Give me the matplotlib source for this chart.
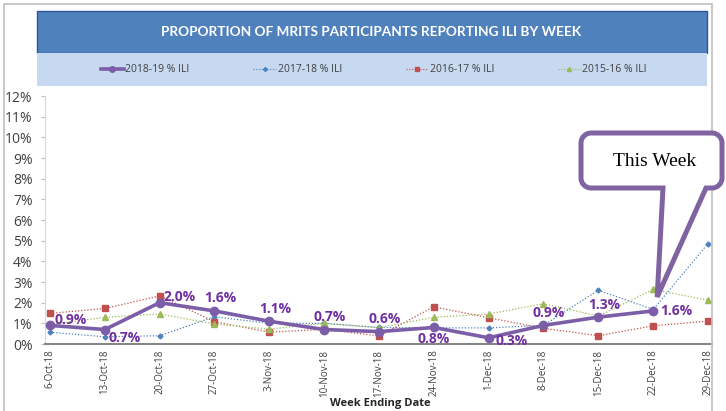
import matplotlib
matplotlib.use("Agg")
import matplotlib.pyplot as plt
from matplotlib.patches import Rectangle, PathPatch
from matplotlib.path import Path
from matplotlib.lines import Line2D
import numpy as np

weeks = ["6-Oct-18", "13-Oct-18", "20-Oct-18", "27-Oct-18", "3-Nov-18", "10-Nov-18",
         "17-Nov-18", "24-Nov-18", "1-Dec-18", "8-Dec-18", "15-Dec-18", "22-Dec-18", "29-Dec-18"]
ili_2018_19 = [0.9, 0.7, 2.0, 1.6, 1.1, 0.7, 0.6, 0.8, 0.3, 0.9, 1.3, 1.6]
ili_2017_18 = [0.57, 0.35, 0.40, 1.32, 1.0, 1.0, 0.8, 0.78, 0.78, 0.9, 2.6, 1.67, 4.86]
ili_2016_17 = [1.48, 1.72, 2.33, 1.08, 0.57, 0.71, 0.39, 1.8, 1.27, 0.76, 0.40, 0.88, 1.11]
ili_2015_16 = [0.95, 1.29, 1.45, 0.97, 0.72, 1.0, 0.79, 1.29, 1.45, 1.95, 1.35, 2.64, 2.12]
yticks = list(range(0, 13))
series_names = ["2018-19 % ILI", "2017-18 % ILI", "2016-17 % ILI", "2015-16 % ILI"]
title = "PROPORTION OF MRITS PARTICIPANTS REPORTING ILI BY WEEK"
xlabel = "Week Ending Date"
callout_text = "This Week"

W, H = 726, 411
fig = plt.figure(figsize=(W / 100, H / 100), dpi=100)

def fx(px):
    return px / W

def fy(py):
    return 1 - py / H

# outer border
fig.patches.append(Rectangle((fx(4), fy(420)), fx(712) - fx(4), fy(4) - fy(420),
                             transform=fig.transFigure, fill=False, ec="#BFBFBF", lw=1.2))
# title band
fig.patches.append(Rectangle((fx(37), fy(53)), fx(707) - fx(37), fy(11) - fy(53),
                             transform=fig.transFigure, fc="#4F81BD", ec="#2F5597", lw=1.0))
fig.patches.append(Rectangle((fx(37), fy(86)), fx(707) - fx(37), fy(53) - fy(86),
                             transform=fig.transFigure, fc="#C6D9F1", ec="none"))
fig.text(fx(371), fy(32), title, color="white", fontsize=9.8, fontweight="bold",
         family="Lato", ha="center", va="center")

ax = fig.add_axes([fx(45), fy(344), fx(712) - fx(45), fy(96) - fy(344)])
x = np.arange(len(weeks))
purple = "#7B5EA7"
ax.plot(x[:len(ili_2017_18)], ili_2017_18, ls=(0, (1, 1.5)), lw=0.9, color="#4F81BD",
        marker="D", ms=2.5, zorder=3, label=series_names[1])
ax.plot(x[:len(ili_2016_17)], ili_2016_17, ls=(0, (1, 1.5)), lw=0.9, color="#C0504D",
        marker="s", ms=4, zorder=3, label=series_names[2])
ax.plot(x[:len(ili_2015_16)], ili_2015_16, ls=(0, (1, 1.5)), lw=0.9, color="#9BBB59",
        marker="^", ms=4, zorder=3, label=series_names[3])
ax.plot(x[:len(ili_2018_19)], ili_2018_19, lw=2.6, color=purple, marker="o", ms=6,
        zorder=4, label=series_names[0])

ax.set_xlim(-0.091, 12.073)
ax.set_ylim(0, 12)
ax.set_yticks(yticks)
ax.set_yticklabels([f"{v}%" for v in yticks], fontsize=10, color="#404040", family="Open Sans")
ax.set_xticks(x)
ax.set_xticklabels(weeks, rotation=90, fontsize=7, color="#404040", family="Open Sans")
ax.tick_params(axis="y", length=3, color="#BFBFBF", pad=6)
ax.tick_params(axis="x", length=0, pad=4)
for s in ["top", "right"]:
    ax.spines[s].set_visible(False)
ax.spines["left"].set_color("#D9D9D9")
ax.spines["bottom"].set_color("#868686")
ax.spines["bottom"].set_linewidth(1.5)
ax.set_xlabel(xlabel, fontsize=8, fontweight="bold", color="#262626", family="Open Sans",
              va="center")
ax.xaxis.set_label_coords(0.502, -0.24)

# data labels
offsets = [(3, 4, "left"), (3, -6, "left"), (3, 4, "left"), (4, 9, "center"),
           (4, 9, "center"), (4, 9, "center"), (4, 9, "center"), (0, -8, "center"),
           (5, -2, "left"), (4, 9, "center"), (4, 9, "center"), (5, 0, "left")]
for i, v in enumerate(ili_2018_19):
    dx, dy, ha = offsets[i]
    ax.annotate(f"{v:.1f}%", (x[i], v), xytext=(dx, dy), textcoords="offset points",
                ha=ha, va="center", fontsize=10, fontweight="bold", color="#7030A0",
                family="Open Sans", zorder=6)

# legend
handles = [Line2D([], [], color=purple, lw=2.6, marker="o", ms=4),
           Line2D([], [], color="#4F81BD", lw=0.8, ls=(0, (1, 1.5)), marker="D", ms=2),
           Line2D([], [], color="#C0504D", lw=0.8, ls=(0, (1, 1.5)), marker="s", ms=3),
           Line2D([], [], color="#9BBB59", lw=0.8, ls=(0, (1, 1.5)), marker="^", ms=3)]
leg = fig.legend(handles, series_names, loc="center left", bbox_to_anchor=(fx(101), fy(70)),
                 ncol=4, frameon=False, prop={"family": "Open Sans", "size": 7.5},
                 handlelength=2.2, handletextpad=0.15, columnspacing=6.1,
                 borderaxespad=0, borderpad=0, labelcolor="#404040")

# callout anchored to this week's point
fig.canvas.draw()
last = len(ili_2018_19) - 1
px, py = ax.transData.transform((x[last], ili_2018_19[last]))
tipx, tipy = px + 4, py + 14  # display coords (origin bottom-left)
ytop, ybot = H - 133, H - 188
xl, xr = 581, 722
r = 10
b1, b2 = 663, 706
k = 0.55 * r
verts = [(b1, ybot), (tipx, tipy), (b2, ybot),
         (xr - r, ybot),
         (xr - r + k, ybot), (xr, ybot + r - k), (xr, ybot + r),
         (xr, ytop - r),
         (xr, ytop - r + k), (xr - r + k, ytop), (xr - r, ytop),
         (xl + r, ytop),
         (xl + r - k, ytop), (xl, ytop - r + k), (xl, ytop - r),
         (xl, ybot + r),
         (xl, ybot + r - k), (xl + r - k, ybot), (xl + r, ybot),
         (b1, ybot)]
codes = [Path.MOVETO, Path.LINETO, Path.LINETO,
         Path.LINETO,
         Path.CURVE4, Path.CURVE4, Path.CURVE4,
         Path.LINETO,
         Path.CURVE4, Path.CURVE4, Path.CURVE4,
         Path.LINETO,
         Path.CURVE4, Path.CURVE4, Path.CURVE4,
         Path.LINETO,
         Path.CURVE4, Path.CURVE4, Path.CURVE4,
         Path.CLOSEPOLY]
patch = PathPatch(Path(verts, codes), transform=None, fc="white", ec="#8064A2", lw=3.6,
                  joinstyle="miter", zorder=10)
fig.patches.append(patch)
fig.text(fx(655), fy(162), callout_text, fontsize=14, family="Liberation Serif",
         ha="center", va="center", color="black", zorder=11)

fig.savefig("out.png", dpi=100)
